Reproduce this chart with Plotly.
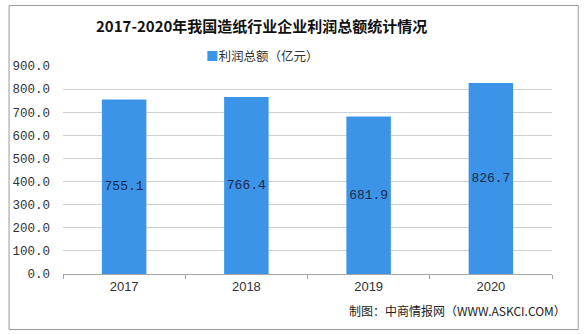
import plotly.graph_objects as go

years = ["2017", "2018", "2019", "2020"]
profit = [755.1, 766.4, 681.9, 826.7]
y_ticks = [0, 100, 200, 300, 400, 500, 600, 700, 800, 900]

title_text = "2017-2020年我国造纸行业企业利润总额统计情况"
legend_text = "利润总额（亿元）"
source_text = "制图：中商情报网（WWW.ASKCI.COM）"

W, H = 584, 334
L, R, T, B = 58, 32, 66, 60
pw, ph = W - L - R, H - T - B

def px(x):
    return (x - L) / pw

def py(y):
    return (H - B - y) / ph

bar_color = "#3C94E8"

fig = go.Figure()
fig.add_trace(go.Bar(
    x=years, y=profit, name=legend_text,
    marker=dict(color=bar_color, line=dict(width=0)),
    text=[f"{v:.1f}" for v in profit],
    textposition="inside", insidetextanchor="middle", textangle=0,
    constraintext="none",
    textfont=dict(family="Liberation Mono", size=13, color="#1B2A4A"),
    showlegend=False,
))

fig.update_layout(
    width=W, height=H,
    margin=dict(l=L, r=R, t=T, b=B),
    paper_bgcolor="white", plot_bgcolor="white",
    bargap=0.636,
    uniformtext=dict(minsize=13, mode="show"),
    xaxis=dict(
        type="category",
        showline=True, linecolor="#A6A6A6", linewidth=1,
        ticks="outside", tickson="boundaries", ticklen=4, tickcolor="#A6A6A6",
        tickfont=dict(family="Liberation Sans", size=13, color="#333333"),
        showgrid=False,
    ),
    yaxis=dict(
        range=[0, 900], tickvals=y_ticks, tickformat=".1f",
        showgrid=True, gridcolor="#D0D0D0", gridwidth=1,
        zeroline=False, showline=False,
        tickfont=dict(family="Liberation Mono", size=12.5, color="#333333"),
        ticklabelstandoff=12,
    ),
    shapes=[dict(
        type="rect", xref="paper", yref="paper",
        x0=px(3.5), x1=px(578.5), y0=py(5.5), y1=py(329.5),
        line=dict(color="#9A9A9A", width=1), fillcolor="rgba(0,0,0,0)", layer="below",
    )],
    annotations=[
        dict(text=f"<b>{title_text}</b>", xref="paper", yref="paper",
             x=px(259), y=py(25), xanchor="center", yanchor="middle", showarrow=False,
             font=dict(family="Noto Sans CJK SC", size=15, color="#111111")),
        dict(text=f"<span style='color:{bar_color}'>■</span>{legend_text}", xref="paper", yref="paper",
             x=px(260), y=py(56), xanchor="center", yanchor="middle", showarrow=False,
             font=dict(family="Noto Sans CJK SC", size=12.5, color="#333333")),
        dict(text=source_text, xref="paper", yref="paper",
             x=px(568), y=py(310), xanchor="right", yanchor="middle", showarrow=False,
             font=dict(family="Noto Sans CJK SC", size=12, color="#222222")),
    ],
)

fig.write_html("out.html")
